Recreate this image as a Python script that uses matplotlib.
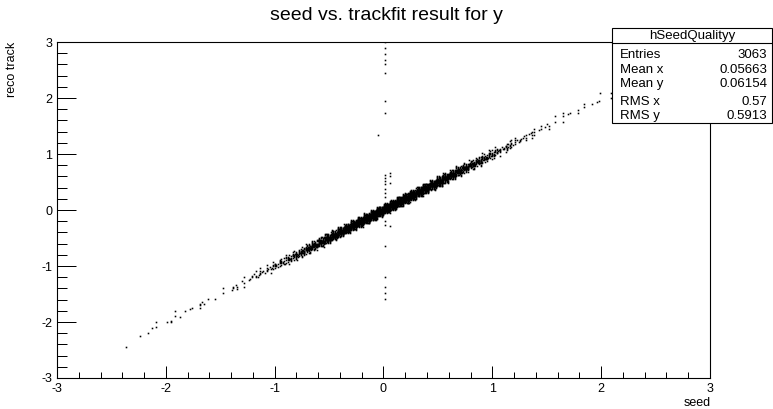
import numpy as np
import matplotlib
matplotlib.use("Agg")
import matplotlib.pyplot as plt
from matplotlib.patches import Rectangle
from matplotlib.lines import Line2D

plt.rcParams['font.family'] = ['Liberation Sans', 'DejaVu Sans']

W, H, DPI = 773, 409, 100

# 2D histogram binning: 100 x 100 cells over [-3, 3] on both axes
lo, hi, nbins = -3.0, 3.0, 100
bw = (hi - lo) / nbins

# Diagonal band (reco ~ seed): seed cell centre and the entries in the reco
# cell just below, on, and just above the diagonal cell.
diag_seed = [-2.37, -2.31, -2.25, -2.19, -2.13, -2.07, -2.01, -1.95, -1.89, -1.83,
             -1.77, -1.71, -1.65, -1.59, -1.53, -1.47, -1.41, -1.35, -1.29, -1.23,
             -1.17, -1.11, -1.05, -0.99, -0.93, -0.87, -0.81, -0.75, -0.69, -0.63,
             -0.57, -0.51, -0.45, -0.39, -0.33, -0.27, -0.21, -0.15, -0.09, -0.03,
             0.03, 0.09, 0.15, 0.21, 0.27, 0.33, 0.39, 0.45, 0.51, 0.57,
             0.63, 0.69, 0.75, 0.81, 0.87, 0.93, 0.99, 1.05, 1.11, 1.17,
             1.23, 1.29, 1.35, 1.41, 1.47, 1.53, 1.59, 1.65, 1.71, 1.77,
             1.83, 1.89, 1.95, 2.01, 2.07, 2.13, 2.19, 2.25, 2.37, 2.49, 2.67]
diag_below = [1, 0, 0, 0, 0, 0, 0, 1, 0, 0,
              0, 1, 0, 0, 1, 0, 0, 1, 1, 0,
              1, 1, 2, 2, 3, 4, 5, 6, 7, 9,
              11, 13, 14, 16, 18, 20, 22, 23, 24, 25,
              25, 25, 25, 24, 23, 22, 20, 18, 16, 14,
              13, 11, 9, 7, 6, 5, 4, 3, 2, 2,
              1, 1, 1, 1, 0, 1, 0, 1, 0, 1,
              0, 0, 0, 0, 1, 0, 0, 0, 0, 0, 0]
diag_on = [0, 0, 1, 1, 1, 1, 1, 1, 2, 1,
           2, 1, 2, 1, 0, 1, 2, 2, 2, 3,
           4, 5, 6, 9, 10, 13, 17, 22, 29, 35,
           41, 48, 57, 65, 72, 78, 83, 89, 94, 97,
           100, 99, 97, 94, 89, 83, 78, 72, 65, 57,
           48, 41, 35, 30, 24, 19, 15, 11, 9, 6,
           6, 4, 3, 2, 2, 2, 1, 1, 2, 1,
           1, 1, 2, 0, 1, 1, 2, 1, 1, 1, 1]
diag_above = [0, 0, 0, 0, 0, 1, 0, 0, 1, 0,
              0, 1, 0, 0, 0, 1, 1, 0, 1, 1,
              1, 1, 1, 2, 3, 4, 5, 6, 7, 9,
              11, 13, 14, 16, 18, 20, 22, 23, 24, 25,
              25, 25, 25, 24, 23, 22, 20, 18, 16, 14,
              13, 11, 9, 7, 6, 5, 4, 3, 2, 2,
              1, 1, 1, 1, 1, 0, 1, 1, 0, 0,
              1, 0, 0, 1, 0, 0, 0, 0, 0, 0, 0]

# Vertical streak of entries near seed = 0
streak_seed = [0.03, 0.03, 0.03, 0.03, 0.03, 0.03, 0.03, 0.03, -0.03, 0.03,
               0.03, 0.03, 0.03, 0.03, 0.03, 0.03, 0.03, 0.03, 0.03, 0.03,
               0.03, 0.03, 0.03]
streak_reco = [2.97, 2.91, 2.79, 2.67, 2.61, 2.43, 1.95, 1.71, 1.35, 0.63,
               0.57, 0.51, 0.45, 0.39, 0.27, 0.21, -0.21, -0.27, -0.63, -1.23,
               -1.35, -1.47, -1.59]
streak_count = [1, 1, 1, 1, 1, 1, 1, 1, 1, 2,
                2, 2, 1, 1, 1, 1, 1, 2, 1, 1,
                1, 1, 1]

# Collect all filled cells
cell_x, cell_y, cell_n = [], [], []
for s, nb, no, na in zip(diag_seed, diag_below, diag_on, diag_above):
    for dy, n in ((-bw, nb), (0.0, no), (bw, na)):
        if n > 0:
            cell_x.append(s); cell_y.append(s + dy); cell_n.append(n)
for s, r, n in zip(streak_seed, streak_reco, streak_count):
    cell_x.append(s); cell_y.append(r); cell_n.append(n)

entries = int(sum(cell_n))

# Scatter-style drawing: one dot per entry, spread over the cell
a1, a2 = 0.7548776662466927, 0.5698402909980532
px, py = [], []
for cx, cy, n in zip(cell_x, cell_y, cell_n):
    ix = int(round((cx - lo) / bw)); iy = int(round((cy - lo) / bw))
    s1 = (ix * 0.6180339887 + 0.31) % 1.0
    s2 = (iy * 0.4142135623 + 0.57) % 1.0
    for k in range(n):
        u = (s1 + k * a1) % 1.0
        v = (s2 + k * a2) % 1.0
        px.append(cx + (u - 0.5) * bw)
        py.append(cy + (v - 0.5) * bw)

fig = plt.figure(figsize=(W / DPI, H / DPI), dpi=DPI)
fig.patch.set_facecolor('white')

L, R, T, B = 57, 710, 42, 378
ax = fig.add_axes([L / W, 1 - B / H, (R - L) / W, (B - T) / H])
dot_pt = 1.6 * 72 / DPI
ax.plot(px, py, linestyle='none', marker='s', markersize=dot_pt,
        markeredgewidth=0, color='black')

ax.set_xlim(lo, hi)
ax.set_ylim(lo, hi)
ax.set_xticks(np.arange(-3, 4, 1))
ax.set_yticks(np.arange(-3, 4, 1))
ax.set_xticks(np.arange(-3, 3.01, 0.2), minor=True)
ax.set_yticks(np.arange(-3, 3.01, 0.2), minor=True)
ax.set_xticklabels([str(v) for v in range(-3, 4)])
ax.set_yticklabels([str(v) for v in range(-3, 4)])
for sp in ax.spines.values():
    sp.set_linewidth(0.8)
    sp.set_color('black')
ax.tick_params(axis='both', which='both', direction='in', top=False, right=False,
               width=0.72, colors='black', labelsize=9)
ax.tick_params(axis='x', which='major', length=9, pad=3.5)
ax.tick_params(axis='x', which='minor', length=4.5)
ax.tick_params(axis='y', which='major', length=14, pad=3.5)
ax.tick_params(axis='y', which='minor', length=7)

def fx(x):
    return x / W

def fy(y):
    return 1 - y / H

fig.text(0.5, fy(16), 'seed vs. trackfit result for y', ha='center', va='center',
         fontsize=14)
fig.text(fx(711), fy(403), 'seed', ha='right', va='center', fontsize=9)
fig.text(fx(12), fy(42), 'reco track', ha='center', va='top', rotation=90, fontsize=9)

# Statistics box
bx0, bx1, by0, by1 = 612, 772, 28, 123
fig.add_artist(Rectangle((fx(bx0), fy(by1)), fx(bx1) - fx(bx0), fy(by0) - fy(by1),
                         transform=fig.transFigure, facecolor='white',
                         edgecolor='black', linewidth=0.8, zorder=5))
fig.add_artist(Line2D([fx(bx0), fx(bx1)], [fy(43), fy(43)], transform=fig.transFigure,
                      color='black', linewidth=0.8, zorder=6))
fig.text(fx((bx0 + bx1) / 2), fy(35.5), 'hSeedQualityy', ha='center', va='center',
         fontsize=9.5, zorder=7)
stat_names = ['Entries', 'Mean x', 'Mean y', 'RMS x', 'RMS y']
stat_values = [f'{entries}', '0.05663', '0.06154', '0.57', '0.5913']
stat_rows = [54.5, 70, 84, 102, 116]
for name, val, yr in zip(stat_names, stat_values, stat_rows):
    fig.text(fx(620), fy(yr), name, ha='left', va='center', fontsize=9.5, zorder=7)
    fig.text(fx(767), fy(yr), val, ha='right', va='center', fontsize=9.5, zorder=7)

fig.savefig('out.png', dpi=DPI)
